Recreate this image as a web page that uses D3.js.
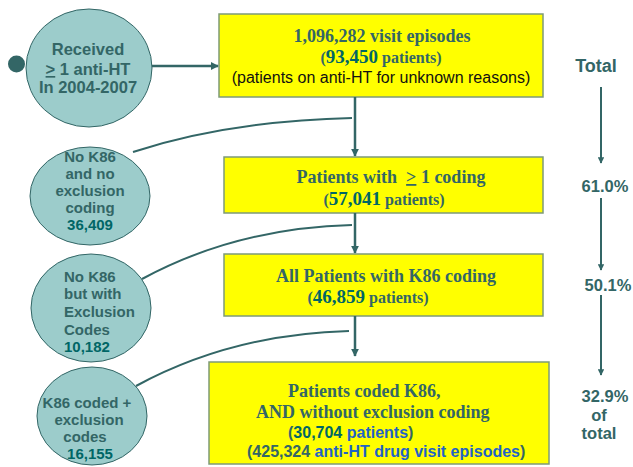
<!DOCTYPE html>
<html>
<head>
<meta charset="utf-8">
<script src="https://cdn.jsdelivr.net/npm/d3@7"></script>
<style>
  html, body { margin: 0; padding: 0; background: #fff; }
  svg { display: block; }
</style>
</head>
<body>
<svg id="chart" width="633" height="467"></svg>
<script>
// ---------- DATA ----------
const stepNames = ["visit episodes", "Patients with  > 1 coding", "All Patients with K86 coding", "Patients coded K86, AND without exclusion coding"];
const stepPatients = [93450, 57041, 46859, 30704];
const stepEpisodes = [1096282, null, null, 425324];
const stepPercent = ["Total", "61.0%", "50.1%", "32.9%"];
const excludedCounts = [36409, 10182, 16155];
const excludedLabels = [
  ["No K86", "and no", "exclusion", "coding"],
  ["No K86", "but with", "Exclusion", "Codes"],
  ["K86 coded +", "exclusion", "codes"]
];
const startLabel = ["Received", "> 1 anti-HT", "In 2004-2007"];

// ---------- LAYOUT / STYLE ----------
const C = {
  text: "#336666", num: "#006666", blue: "#1f63c6",
  fill: "#9ccccb", stroke: "#336666", box: "#ffff00", boxStroke: "#7e9a78"
};
const SERIF = "'Liberation Serif','Times New Roman',serif";
const SANS = "'Liberation Sans',Arial,Helvetica,sans-serif";
const fmt = d3.format(",");

const svg = d3.select("#chart");
const defs = svg.append("defs");
defs.append("marker").attr("id", "ah").attr("viewBox", "0 0 10 10")
  .attr("refX", 9).attr("refY", 5).attr("markerWidth", 3.2).attr("markerHeight", 3.2)
  .attr("orient", "auto-start-reverse")
  .append("path").attr("d", "M0,0 L10,5 L0,10 z").attr("fill", C.stroke);

// box geometry per step (layout)
const boxes = [
  {x: 219, y: 14, w: 324, h: 83},
  {x: 224, y: 157, w: 319, h: 56},
  {x: 224, y: 254, w: 319, h: 62},
  {x: 209, y: 362, w: 340, h: 102}
];
const stepIdx = d3.range(stepNames.length);
const boxX = d3.scaleOrdinal().domain(stepIdx).range(boxes.map(b => b.x));
const boxY = d3.scaleOrdinal().domain(stepIdx).range(boxes.map(b => b.y));
const boxW = d3.scaleOrdinal().domain(stepIdx).range(boxes.map(b => b.w));
const boxH = d3.scaleOrdinal().domain(stepIdx).range(boxes.map(b => b.h));

// circles geometry (layout)
const circ = [
  {cx: 90, cy: 196, rx: 60, ry: 49},
  {cx: 91, cy: 308, rx: 60, ry: 54},
  {cx: 92, cy: 416, rx: 55, ry: 49}
];

// ---------- BOXES ----------
svg.selectAll("rect.step").data(stepIdx).join("rect").attr("class", "step")
  .attr("x", i => boxX(i)).attr("y", i => boxY(i))
  .attr("width", i => boxW(i)).attr("height", i => boxH(i))
  .attr("fill", C.box).attr("stroke", C.boxStroke).attr("stroke-width", 1.5);

// ---------- START CIRCLE ----------
svg.append("circle").attr("cx", 16.5).attr("cy", 64).attr("r", 8.5).attr("fill", C.stroke);
svg.append("ellipse").attr("cx", 89).attr("cy", 68).attr("rx", 63).attr("ry", 59)
  .attr("fill", C.fill).attr("stroke", C.stroke).attr("stroke-width", 1);
const st = svg.append("text").attr("font-family", SANS).attr("font-weight", "bold")
  .attr("font-size", 16.5).attr("fill", C.text).attr("text-anchor", "middle");
st.append("tspan").attr("x", 88).attr("y", 55).text(startLabel[0]);
const st2 = st.append("tspan").attr("x", 88).attr("y", 75);
st2.append("tspan").style("text-decoration", "underline").text(startLabel[1].slice(0, 1));
st2.append("tspan").text(startLabel[1].slice(1));
st.append("tspan").attr("x", 88).attr("y", 93).text(startLabel[2]);

// ---------- ARROWS ----------
const line = (x1, y1, x2, y2) => svg.append("line")
  .attr("x1", x1).attr("y1", y1).attr("x2", x2).attr("y2", y2)
  .attr("stroke", C.stroke).attr("stroke-width", 2.5).attr("marker-end", "url(#ah)");
line(152, 66, boxX(0) - 1, 66);
const ax = 355;
line(ax, boxY(0) + boxH(0), ax, boxY(1) - 1);
line(ax, boxY(1) + boxH(1), ax, boxY(2) - 1);
line(ax, boxY(2) + boxH(2), ax, 356);

// curves to excluded circles
const curves = [
  {x1: 352, y1: 118, cx: 228, cy: 121, x2: 133, y2: 152},
  {x1: 352, y1: 225, cx: 236, cy: 228, x2: 142, y2: 279},
  {x1: 349, y1: 331, cx: 232, cy: 334, x2: 136, y2: 386}
];
svg.selectAll("path.cv").data(curves).join("path").attr("class", "cv")
  .attr("d", d => `M${d.x1},${d.y1} Q${d.cx},${d.cy} ${d.x2},${d.y2}`)
  .attr("fill", "none").attr("stroke", C.stroke).attr("stroke-width", 2);

// ---------- EXCLUDED CIRCLES ----------
svg.selectAll("ellipse.ex").data(circ).join("ellipse").attr("class", "ex")
  .attr("cx", d => d.cx).attr("cy", d => d.cy).attr("rx", d => d.rx).attr("ry", d => d.ry)
  .attr("fill", C.fill).attr("stroke", C.stroke).attr("stroke-width", 1);

const exText = [
  {anchor: "middle", xs: [90, 90, 90, 90, 90], ys: [162, 179, 196, 213, 230]},
  {anchor: "start", xs: [64, 64, 64, 64, 64], ys: [282, 299, 317, 335, 352]},
  {anchor: "middle", xs: [87, 89, 85, 90], ys: [408, 425, 442, 459]}
];
excludedCounts.forEach((n, i) => {
  const L = exText[i];
  const t = svg.append("text").attr("font-family", SANS).attr("font-weight", "bold")
    .attr("font-size", 15).attr("text-anchor", L.anchor);
  excludedLabels[i].forEach((s, j) => {
    t.append("tspan").attr("x", L.xs[j]).attr("y", L.ys[j]).attr("fill", C.text).text(s);
  });
  const k = excludedLabels[i].length;
  t.append("tspan").attr("x", L.xs[k]).attr("y", L.ys[k]).attr("fill", C.num).text(fmt(n));
});

// ---------- BOX TEXTS ----------
// Box 0
{
  const b = 0;
  const t1 = svg.append("text").attr("font-family", SERIF).attr("font-weight", "bold")
    .attr("font-size", 18).attr("fill", C.text).attr("text-anchor", "middle")
    .attr("x", 382).attr("y", 42);
  t1.text(fmt(stepEpisodes[b]) + " " + stepNames[b]);
  const t2 = svg.append("text").attr("font-family", SERIF).attr("font-weight", "bold")
    .attr("fill", C.text).attr("text-anchor", "middle").attr("x", 381).attr("y", 63);
  t2.append("tspan").attr("font-size", 16).text("(");
  t2.append("tspan").attr("font-size", 19).attr("fill", C.num).text(fmt(stepPatients[b]));
  t2.append("tspan").attr("font-size", 16).text(" patients)");
  svg.append("text").attr("font-family", SANS).attr("font-size", 16).attr("fill", "#111")
    .attr("text-anchor", "middle").attr("x", 381).attr("y", 83)
    .text("(patients on anti-HT for unknown reasons)");
}
// Box 1
{
  const b = 1;
  const t1 = svg.append("text").attr("font-family", SERIF).attr("font-weight", "bold")
    .attr("font-size", 18).attr("fill", C.text).attr("text-anchor", "middle")
    .attr("x", 391).attr("y", 183);
  const parts = stepNames[b].split(">");
  t1.append("tspan").text(parts[0].replace(/ +$/, "\u00a0\u00a0"));
  t1.append("tspan").style("text-decoration", "underline").text(">");
  t1.append("tspan").text(parts[1]);
  const t2 = svg.append("text").attr("font-family", SERIF).attr("font-weight", "bold")
    .attr("fill", C.text).attr("text-anchor", "middle").attr("x", 384).attr("y", 205);
  t2.append("tspan").attr("font-size", 16).text("(");
  t2.append("tspan").attr("font-size", 19).attr("fill", C.num).text(fmt(stepPatients[b]));
  t2.append("tspan").attr("font-size", 16).text(" patients)");
}
// Box 2
{
  const b = 2;
  svg.append("text").attr("font-family", SERIF).attr("font-weight", "bold")
    .attr("font-size", 18).attr("fill", C.text).attr("text-anchor", "middle")
    .attr("x", 386).attr("y", 282).text(stepNames[b]);
  const t2 = svg.append("text").attr("font-family", SERIF).attr("font-weight", "bold")
    .attr("fill", C.text).attr("text-anchor", "middle").attr("x", 368).attr("y", 303);
  t2.append("tspan").attr("font-size", 16).text("(");
  t2.append("tspan").attr("font-size", 19).attr("fill", C.num).text(fmt(stepPatients[b]));
  t2.append("tspan").attr("font-size", 16).text(" patients)");
}
// Box 3
{
  const b = 3;
  const [l1, l2] = stepNames[b].split(", ");
  svg.append("text").attr("font-family", SERIF).attr("font-weight", "bold")
    .attr("font-size", 18).attr("fill", C.text).attr("x", 288).attr("y", 397).text(l1 + ",");
  svg.append("text").attr("font-family", SERIF).attr("font-weight", "bold")
    .attr("font-size", 18).attr("fill", C.text).attr("x", 256).attr("y", 418).text(l2);
  const t3 = svg.append("text").attr("font-family", SANS).attr("font-weight", "bold")
    .attr("font-size", 16).attr("x", 288).attr("y", 438);
  t3.append("tspan").attr("fill", C.text).text("(");
  t3.append("tspan").attr("fill", C.num).text(fmt(stepPatients[b]));
  t3.append("tspan").attr("fill", C.blue).text(" patients");
  t3.append("tspan").attr("fill", C.text).text(")");
  const t4 = svg.append("text").attr("font-family", SANS).attr("font-weight", "bold")
    .attr("font-size", 16).attr("x", 247).attr("y", 457);
  t4.append("tspan").attr("fill", C.text).text("(");
  t4.append("tspan").attr("fill", C.text).text(fmt(stepEpisodes[b]));
  t4.append("tspan").attr("fill", C.blue).text(" anti-HT drug visit episodes");
  t4.append("tspan").attr("fill", C.text).text(")");
}

// ---------- PERCENT COLUMN ----------
const pctPos = [
  {x: 596, y: 72, size: 18},
  {x: 605, y: 192, size: 16.5},
  {x: 608, y: 291, size: 16.5},
  {x: 605, y: 402, size: 16.5}
];
svg.selectAll("text.pct").data(stepPercent).join("text").attr("class", "pct")
  .attr("font-family", SANS).attr("font-weight", "bold").attr("fill", C.text)
  .attr("text-anchor", "middle")
  .attr("x", (d, i) => pctPos[i].x).attr("y", (d, i) => pctPos[i].y)
  .attr("font-size", (d, i) => pctPos[i].size).text(d => d);
const ofTotal = svg.append("text").attr("font-family", SANS).attr("font-weight", "bold")
  .attr("fill", C.text).attr("font-size", 16.5).attr("text-anchor", "middle");
ofTotal.append("tspan").attr("x", 599).attr("y", 421).text("of");
ofTotal.append("tspan").attr("x", 599).attr("y", 439).text("total");

const pctArrows = [[87, 163], [198, 270], [295, 375]];
pctArrows.forEach(([y1, y2]) => {
  svg.append("line").attr("x1", 601).attr("y1", y1).attr("x2", 601).attr("y2", y2)
    .attr("stroke", C.stroke).attr("stroke-width", 2).attr("marker-end", "url(#ah)");
});
</script>
</body>
</html>
